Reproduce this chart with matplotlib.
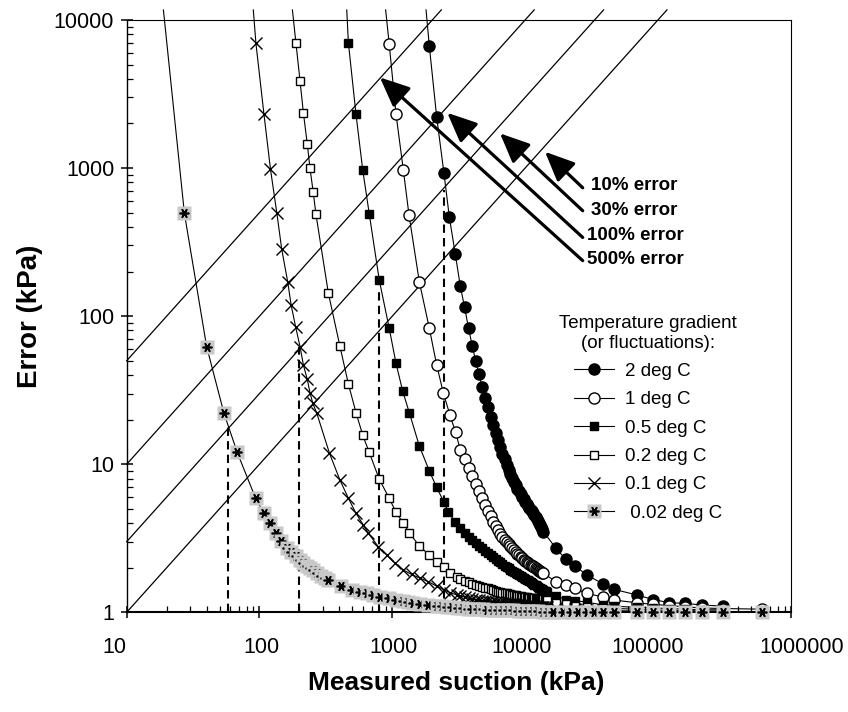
import matplotlib
matplotlib.use('Agg')
import matplotlib.pyplot as plt
from matplotlib.lines import Line2D
from matplotlib.legend_handler import HandlerTuple
from matplotlib.ticker import LogLocator, NullFormatter, FixedLocator, FixedFormatter

plt.rcParams['font.family'] = ['Liberation Sans', 'DejaVu Sans']

# ---- data ----
# suction values shared by the dense middle part and the tail of the curves
dense_x = [3250, 3500, 3750, 4000, 4250, 4500, 4750, 5000, 5250, 5500, 5750, 6000, 6250, 6500,
           6750, 7000, 7250, 7500, 7750, 8000, 8250, 8500, 8750, 9000, 9250, 9500, 9750, 10000,
           10250, 10500, 10750, 11000, 11250, 11500, 11750, 12000, 12250, 12500, 12750, 13000,
           13250, 13500, 13750, 14000, 14250, 14500]
tail_x = [17100, 20300, 23800, 29100, 38800, 46700, 69200, 92300, 121800, 160000, 213600, 307600]
far_x = 611000

# 2 deg C  (first point = where the line leaves the top of the frame)
head_x_2 = [1795, 1900, 2160, 2450, 2690, 2980]
head_y_2 = [11700, 6670, 2200, 920, 465, 263]
dense_y_2 = [160, 115, 83, 63, 49.5, 40.5, 33, 28, 24.3, 21.0, 18.5, 16.3, 14.5, 13.0, 11.8, 10.8,
             9.9, 9.2, 8.6, 8.05, 7.6, 7.2, 6.85, 6.55, 6.28, 6.0, 5.78, 5.56, 5.37, 5.2, 5.05,
             4.92, 4.8, 4.68, 4.55, 4.4, 4.28, 4.15, 4.02, 3.9, 3.78, 3.65, 3.5]
tail_y_2 = [2.70, 2.28, 2.05, 1.79, 1.55, 1.43, 1.31, 1.22, 1.16, 1.15, 1.12, 1.10]

# 1 deg C
head_x_1 = [891, 948, 1067, 1211, 1336, 1597, 1901, 2158, 2421, 2716, 3000]
head_y_1 = [11700, 6870, 2305, 969, 482, 171, 82.7, 46.8, 30.4, 21.5, 16.4]
dense_y_1 = [12.5, 10.9, 9.5, 8.3, 7.4, 6.6, 5.9, 5.3, 4.85, 4.45, 4.1, 3.8, 3.58, 3.40, 3.24, 3.10,
             2.98, 2.88, 2.79, 2.70, 2.62, 2.55, 2.48, 2.42, 2.37, 2.32, 2.27, 2.23, 2.19, 2.16,
             2.13, 2.10, 2.07, 2.04, 2.01, 1.98, 1.96, 1.93, 1.91, 1.89, 1.87, 1.85, 1.83]
tail_y_1 = [1.61, 1.53, 1.45, 1.34, 1.27, 1.21, 1.16, 1.13, 1.11, 1.09, 1.07, 1.06]
far_y_1 = 1.05

# 0.5 deg C
head_x_05 = [454, 467, 533, 599, 671, 798, 948, 1067, 1197, 1343, 1597, 1901, 2158, 2449, 2640, 2966]
head_y_05 = [11700, 7015, 2305, 969, 489, 175, 82.7, 48, 31.2, 22.3, 13.3, 9.0, 6.98, 5.53, 4.78, 4.09]
dense_y_05 = [3.70, 3.45, 3.23, 3.06, 2.93, 2.81, 2.70, 2.61, 2.52, 2.44, 2.37, 2.29, 2.23, 2.17,
              2.12, 2.07, 2.02, 1.98, 1.94, 1.90, 1.87, 1.84, 1.81, 1.78, 1.75, 1.72, 1.70, 1.68,
              1.66, 1.64, 1.62, 1.60, 1.58, 1.56, 1.54, 1.52, 1.50, 1.49, 1.47, 1.46, 1.44, 1.43,
              1.41, 1.40, 1.39, 1.38]
tail_y_05 = [1.29, 1.22, 1.20, 1.17, 1.12, 1.10, 1.08, 1.07, 1.06, 1.05, 1.04, 1.04]

# 0.2 deg C
head_x_02 = [177, 188, 202, 214, 229, 240, 254, 266, 330, 403, 467, 533, 599, 671, 798, 948,
             1067, 1211, 1343, 1597, 1901, 2158, 2449, 2716, 3055]
head_y_02 = [11700, 7015, 3870, 2362, 1453, 995, 685, 489, 143, 62.8, 34.8, 22.3, 15.7, 12.0, 7.91,
             5.89, 4.73, 3.99, 3.45, 2.80, 2.44, 2.20, 2.01, 1.85, 1.74]
dense_y_02 = [1.69, 1.63, 1.59, 1.56, 1.53, 1.51, 1.49, 1.47, 1.45, 1.43, 1.41, 1.40, 1.38, 1.37,
              1.36, 1.35, 1.34, 1.33, 1.32, 1.31, 1.305, 1.30, 1.29, 1.285, 1.28, 1.275, 1.27,
              1.265, 1.26, 1.255, 1.25, 1.248, 1.245, 1.242, 1.24, 1.237, 1.235, 1.232, 1.23,
              1.228, 1.226, 1.224, 1.222, 1.221, 1.22, 1.22]
tail_y_02 = [1.16, 1.13, 1.11, 1.09, 1.07, 1.06, 1.05, 1.04, 1.03, 1.03, 1.02, 1.02]

# 0.1 deg C
head_x_01 = [89.8, 94, 108, 121, 135, 147, 163, 173, 187, 202, 214, 229, 240, 252, 270, 336,
             403, 467, 533, 605, 660, 785, 908, 1047, 1211, 1400, 1617, 1868, 2158, 2449, 2716, 3055]
head_y_01 = [11700, 6950, 2316, 980, 499, 283, 171, 119, 84.8, 62.2, 46.8, 37.4, 30.4, 25.8, 22.1,
             11.9, 7.83, 5.89, 4.66, 3.89, 3.42, 2.77, 2.44, 2.14, 1.93, 1.80, 1.70, 1.61, 1.50,
             1.42, 1.36, 1.31]
dense_y_01 = [1.29, 1.265, 1.245, 1.23, 1.215, 1.205, 1.195, 1.19, 1.185, 1.18, 1.172, 1.165,
              1.16, 1.155, 1.15, 1.147, 1.143, 1.14, 1.137, 1.134, 1.131, 1.128, 1.125, 1.122,
              1.119, 1.116, 1.113, 1.11, 1.108, 1.106, 1.104, 1.102, 1.10, 1.098, 1.096, 1.094,
              1.092, 1.09, 1.088, 1.086, 1.084, 1.083, 1.082, 1.081, 1.08, 1.08]
tail_y_01 = [1.07, 1.06, 1.05, 1.04, 1.03, 1.025, 1.02, 1.015, 1.01, 1.01, 1.005, 1.005]

# 0.02 deg C
x_002 = [18.9, 27.2, 40, 54, 68, 93.5, 108, 120, 132, 145, 160, 173, 187, 202, 214,
         229, 240, 252, 270, 290, 310, 330, 408, 494, 571, 641, 719, 807, 951, 1067,
         1197, 1306, 1420, 1617, 1868, 2158, 2353, 2568, 2798, 3100, 3400, 3700, 4000, 4400,
         4800, 5200, 5700, 6200, 6800, 7400, 8100, 8800, 9600, 10500, 11500, 12500, 13700,
         15000, 16200, 19300, 22000, 25000, 29100, 33000, 38800, 47000, 69200, 92300, 121800,
         160000, 213600, 307600, 611000]
y_002 = [11700, 494, 62.2, 22.1, 12.0, 5.89, 4.66, 3.99, 3.42, 3.03, 2.71, 2.55, 2.40, 2.26, 2.16,
         2.05, 1.98, 1.92, 1.84, 1.77, 1.71, 1.65, 1.51, 1.42, 1.38, 1.34, 1.31, 1.27, 1.24, 1.22,
         1.20, 1.18, 1.16, 1.13, 1.12, 1.10, 1.10, 1.09, 1.08, 1.07, 1.07, 1.06, 1.06, 1.05,
         1.05, 1.04, 1.04, 1.04, 1.03, 1.03, 1.03, 1.02, 1.02, 1.02, 1.02, 1.02, 1.01,
         1.01, 1.01, 1.01, 1.01, 1.01, 1.0, 1.0, 1.0, 1.0, 1.0, 1.0, 1.0,
         1.0, 1.0, 1.0, 1.0]

labels = ['2 deg C', '1 deg C', '0.5 deg C', '0.2 deg C', '0.1 deg C', ' 0.02 deg C']

error_pct = [10, 30, 100, 500]
error_labels = ['10% error', '30% error', '100% error', '500% error']
line_top = 11700

dash_x = [58, 200, 790, 2470]
dash_top = [19, 62, 150, 711]

x_ticks = [10, 100, 1000, 10000, 100000, 1000000]
x_ticklabels = ['10', '100', '1000', '10000', '100000', '1000000']
x_label_shift = [-12.7, 1.5, 1, -4, -10.4, 10.8]   # pixels, as placed in the original
y_ticks = [1, 10, 100, 1000, 10000]
y_ticklabels = ['1', '10', '100', '1000', '10000']

# arrow tip / tail / text anchor (data coords)
arrow_tip = [(14130, 1288), (6470, 1715), (2594, 2362), (807, 4093)]
arrow_tail = [(27160, 736), (27160, 515), (27160, 340), (27160, 237)]
text_pos = [(31190, 768), (31190, 520), (29100, 353), (29100, 242)]


def series(hx, hy, dy, ty):
    return hx + dense_x[:len(dy)] + tail_x, hy + dy + ty


x_2, y_2 = series(head_x_2, head_y_2, dense_y_2, tail_y_2)
x_1, y_1 = series(head_x_1, head_y_1, dense_y_1, tail_y_1)
x_1, y_1 = x_1 + [far_x], y_1 + [far_y_1]
x_05, y_05 = series(head_x_05, head_y_05, dense_y_05, tail_y_05)
x_02, y_02 = series(head_x_02, head_y_02, dense_y_02, tail_y_02)
x_01, y_01 = series(head_x_01, head_y_01, dense_y_01, tail_y_01)

GRAY = '#c8c8c8'
AST = (6, 2, 90)

fig = plt.figure(figsize=(8.48, 7.12), dpi=100)
ax = fig.add_axes([0.14941, 0.14003, 0.78302, 0.83188])
ax.set_xscale('log')
ax.set_yscale('log')
ax.set_xlim(10, 1e6)
ax.set_ylim(1, 1e4)

# error lines y = p% of x
for p in error_pct:
    f = p / 100.0
    ax.plot([10, line_top / f], [10 * f, line_top], color='k', lw=0.9, zorder=1.5, clip_on=False)

for xd, yt in zip(dash_x, dash_top):
    ax.plot([xd, xd], [1, yt], color='k', lw=1.5, ls=(0, (4, 2.5)), zorder=1.6)

style = dict(color='k', lw=0.8, clip_on=False, zorder=3, markevery=slice(1, None))
ax.plot(x_2, y_2, marker='o', ms=8, mfc='k', mec='k', **style)
ax.plot(x_1, y_1, marker='o', ms=8, mfc='white', mec='k', mew=1, **style)
ax.plot(x_05, y_05, marker='s', ms=5.8, mfc='k', mec='k', **style)
ax.plot(x_02, y_02, marker='s', ms=5.8, mfc='white', mec='k', mew=1, **style)
ax.plot(x_01, y_01, marker='x', ms=8.5, mec='k', mew=1, **style)

# 0.02 deg: gray square + asterisk, drawn point by point so later ones overlap earlier
ax.plot(x_002, y_002, color='k', lw=0.8, clip_on=False, zorder=4)
for i in range(1, len(x_002)):
    z = 4.1 + i * 0.01
    ax.plot([x_002[i]], [y_002[i]], marker='s', ms=9.8, mfc=GRAY, mec='none',
            ls='none', clip_on=False, zorder=z)
    ax.plot([x_002[i]], [y_002[i]], marker=AST, ms=7, mec='k', mew=1.2,
            ls='none', clip_on=False, zorder=z + 0.005)

# arrows and labels
for tip, tail, tp, lab in zip(arrow_tip, arrow_tail, text_pos, error_labels):
    ax.annotate('', xy=tip, xytext=tail,
                arrowprops=dict(arrowstyle='-|>,head_length=0.9,head_width=0.4',
                                lw=2.3, color='k', shrinkA=0, shrinkB=0, mutation_scale=20))
    ax.text(tp[0], tp[1], lab, fontsize=13.5, fontweight='bold', ha='left', va='center')

# axes styling
ax.xaxis.set_major_locator(FixedLocator(x_ticks))
ax.xaxis.set_major_formatter(NullFormatter())
ax.yaxis.set_major_locator(FixedLocator(y_ticks))
ax.yaxis.set_major_formatter(FixedFormatter(y_ticklabels))
ax.xaxis.set_minor_locator(LogLocator(base=10, subs=range(2, 10), numticks=20))
ax.yaxis.set_minor_locator(LogLocator(base=10, subs=range(2, 10), numticks=20))
ax.xaxis.set_minor_formatter(NullFormatter())
ax.yaxis.set_minor_formatter(NullFormatter())
ax.tick_params(which='major', direction='inout', length=8, width=1.1, labelsize=15.5)
ax.tick_params(which='minor', direction='in', length=4, width=0.9)
ax.tick_params(axis='y', which='major', pad=5)
ax.spines['bottom'].set_linewidth(1.5)
ax.spines['left'].set_linewidth(1.0)
ax.spines['top'].set_linewidth(0.8)
ax.spines['right'].set_linewidth(0.8)

for xt, lab, sh in zip(x_ticks, x_ticklabels, x_label_shift):
    ax.annotate(lab, xy=(xt, 0), xycoords=('data', 'axes fraction'), xytext=(sh, -25),
                textcoords='offset pixels', ha='center', va='top', fontsize=15.5)

fig.text(456 / 848, 1 - 683 / 712, 'Measured suction (kPa)', fontsize=19, fontweight='bold',
         ha='center', va='center')
fig.text(30 / 848, 1 - 316 / 712, 'Error (kPa)', fontsize=20, fontweight='bold',
         ha='center', va='center', rotation=90)

# legend
h2 = Line2D([], [], color='k', lw=0.8, marker='o', ms=8, mfc='k', mec='k')
h1 = Line2D([], [], color='k', lw=0.8, marker='o', ms=8, mfc='white', mec='k', mew=1)
h05 = Line2D([], [], color='k', lw=0.8, marker='s', ms=5.8, mfc='k', mec='k')
h02 = Line2D([], [], color='k', lw=0.8, marker='s', ms=5.8, mfc='white', mec='k', mew=1)
h01 = Line2D([], [], color='k', lw=0.8, marker='x', ms=8.5, mec='k', mew=1)
h002 = (Line2D([], [], color='k', lw=0.8, marker='s', ms=9.8, mfc=GRAY, mec='none'),
        Line2D([], [], ls='none', marker=AST, ms=7, mec='k', mew=1.2))
leg = ax.legend([h2, h1, h05, h02, h01, h002], labels,
                handler_map={tuple: HandlerTuple(ndivide=1)},
                title='Temperature gradient\n(or fluctuations):',
                fontsize=13.5, title_fontsize=13.5, frameon=False,
                loc='upper left', bbox_to_anchor=(550 / 848, 1 - 305.6 / 712),
                bbox_transform=fig.transFigure, borderaxespad=0, borderpad=0.5,
                handlelength=2.1, handletextpad=0.6, labelspacing=0.6)
leg.get_title().set_multialignment('center')
leg.set_zorder(6)

fig.savefig('out.png', dpi=100)
